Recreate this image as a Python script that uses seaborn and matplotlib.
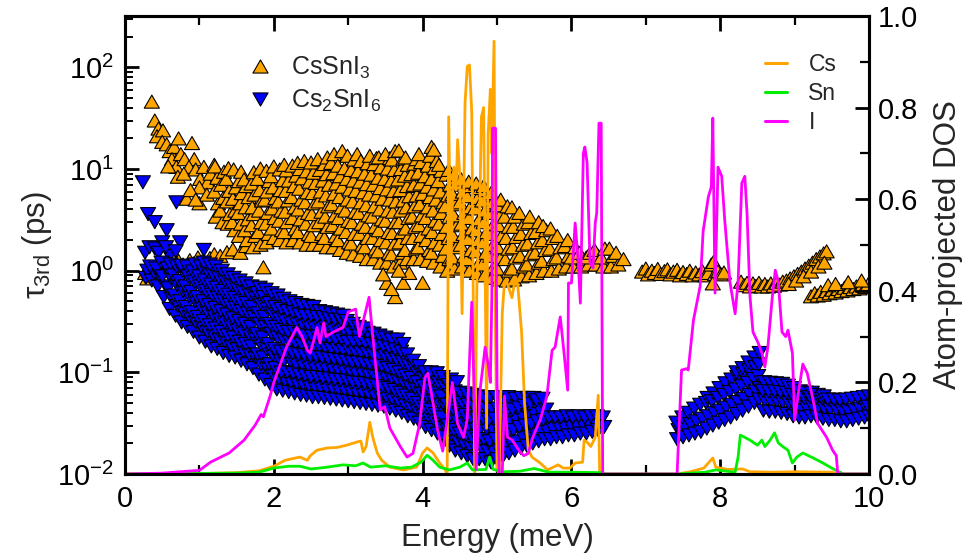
import numpy as np
import pandas as pd
import matplotlib
matplotlib.use("Agg")
import matplotlib.pyplot as plt
from matplotlib.path import Path
from matplotlib.lines import Line2D
from matplotlib.ticker import MultipleLocator, LogLocator, NullFormatter
import seaborn as sns

# ---------------------------------------------------------------------------
# Third-order phonon lifetimes (energy in meV, tau in ps)
# ---------------------------------------------------------------------------
# CsSnI3: decaying low-energy branch
cssni3_upper = [(0.36, 46), (0.40, 30), (0.45, 25), (0.43, 21), (0.51, 24), (0.50, 18.5),
                (0.56, 17.5), (0.60, 15), (0.66, 16.5), (0.63, 12.5), (0.72, 20), (0.75, 14),
                (0.69, 10.5), (0.80, 12.5), (0.90, 18), (0.93, 12.5), (0.86, 10.5), (0.58, 10.6),
                (0.71, 8.4), (0.79, 9.0), (0.95, 9.9), (1.01, 8.0), (1.06, 10.5), (1.11, 7.4),
                (1.00, 6.6), (0.83, 5.1), (1.00, 4.6), (0.88, 6.2), (1.15, 9.0), (1.20, 11.0),
                (1.10, 5.6), (0.95, 5.0)]
# CsSnI3: acoustic branch near 1 ps
cssni3_lower = [(0.27, 0.95), (0.30, 0.84), (0.34, 1.08), (0.40, 0.90), (0.45, 1.00), (0.50, 1.13),
                (0.56, 1.20), (0.61, 1.05), (0.66, 1.12), (0.72, 1.25), (0.78, 1.15), (0.87, 1.27),
                (0.92, 1.18), (0.98, 1.35), (1.05, 1.28), (1.14, 1.33), (1.20, 1.45), (1.28, 1.40),
                (1.37, 1.52), (1.45, 1.62), (1.55, 1.50), (1.63, 1.75), (1.86, 1.08)]
# CsSnI3: dense cloud 1.2-4.3 meV
cssni3_cloud = [
    (1.22, 3.4), (1.25, 4.6), (1.20, 6.0), (1.24, 8.2), (1.21, 10.6),
    (1.31, 3.0), (1.28, 3.9), (1.32, 5.2), (1.29, 7.0), (1.33, 9.4),
    (1.38, 2.9), (1.41, 3.6), (1.37, 4.8), (1.40, 6.1), (1.36, 8.0), (1.39, 10.2),
    (1.47, 2.5), (1.44, 3.0), (1.48, 3.9), (1.45, 5.1), (1.49, 6.6), (1.46, 9.9),
    (1.53, 2.2), (1.56, 2.9), (1.52, 3.7), (1.55, 4.6), (1.57, 5.8), (1.53, 7.6), (1.56, 9.4),
    (1.64, 2.0), (1.61, 2.5), (1.65, 3.2), (1.62, 4.2), (1.66, 5.3), (1.63, 6.8), (1.60, 7.9),
    (1.72, 1.7), (1.75, 2.2), (1.70, 2.8), (1.73, 3.6), (1.71, 4.2), (1.74, 5.6), (1.70, 7.2), (1.73, 9.3),
    (1.82, 1.8), (1.79, 2.4), (1.83, 3.0), (1.80, 3.9), (1.84, 4.9), (1.81, 6.2), (1.78, 8.0), (1.82, 10.1),
    (1.90, 1.9), (1.93, 2.3), (1.89, 2.9), (1.92, 3.7), (1.88, 5.0), (1.91, 6.0), (1.94, 7.6), (1.90, 9.6),
    (2.00, 2.1), (1.97, 2.6), (2.01, 3.3), (1.98, 4.1), (2.02, 5.2), (1.99, 6.6), (1.96, 8.5), (2.00, 10.6),
    (2.08, 2.0), (2.11, 2.5), (2.07, 3.1), (2.10, 3.9), (2.06, 4.8), (2.09, 6.2), (2.12, 7.8), (2.08, 9.9),
    (2.17, 1.9), (2.14, 2.4), (2.18, 3.0), (2.15, 3.8), (2.19, 4.9), (2.16, 6.1), (2.20, 7.7), (2.17, 9.7), (2.14, 11.0),
    (2.26, 2.0), (2.29, 2.6), (2.25, 3.3), (2.28, 4.2), (2.24, 5.3), (2.27, 6.8), (2.30, 8.6), (2.25, 10.8),
    (2.35, 1.9), (2.32, 2.4), (2.36, 3.2), (2.33, 4.0), (2.37, 5.0), (2.34, 6.4), (2.38, 8.1), (2.35, 10.0), (2.32, 11.5),
    (2.44, 1.8), (2.47, 2.3), (2.43, 2.9), (2.46, 3.7), (2.42, 4.7), (2.45, 5.9), (2.48, 7.5), (2.44, 9.5), (2.41, 12.0),
    (2.53, 1.8), (2.50, 2.2), (2.54, 2.8), (2.51, 3.6), (2.55, 4.6), (2.52, 5.8), (2.56, 7.3), (2.53, 9.2), (2.50, 11.6),
    (2.62, 1.8), (2.65, 2.3), (2.61, 3.0), (2.64, 3.8), (2.60, 4.8), (2.63, 6.0), (2.66, 7.7), (2.62, 9.8), (2.59, 12.5),
    (2.71, 1.7), (2.68, 2.1), (2.72, 2.7), (2.69, 3.4), (2.73, 4.3), (2.70, 5.5), (2.74, 7.0), (2.71, 8.9), (2.68, 11.2), (2.72, 13.0),
    (2.80, 1.7), (2.83, 2.2), (2.79, 2.8), (2.82, 3.5), (2.78, 4.5), (2.81, 5.7), (2.84, 7.2), (2.80, 9.1), (2.77, 11.5), (2.81, 14.0),
    (2.89, 1.6), (2.86, 2.0), (2.90, 2.6), (2.87, 3.3), (2.91, 4.2), (2.88, 5.3), (2.92, 6.7), (2.89, 8.5), (2.86, 10.8), (2.92, 15.0),
    (2.98, 1.5), (3.01, 1.9), (2.97, 2.4), (3.00, 3.1), (2.96, 3.9), (2.99, 5.0), (3.02, 6.3), (2.98, 8.0), (2.95, 10.2), (2.99, 13.5),
    (3.07, 1.45), (3.04, 1.85), (3.08, 2.3), (3.05, 3.0), (3.09, 3.8), (3.06, 4.8), (3.10, 6.1), (3.07, 7.7), (3.04, 9.8), (3.08, 12.4), (3.12, 14.0),
    (3.16, 1.4), (3.19, 1.8), (3.15, 2.3), (3.18, 2.9), (3.14, 3.7), (3.17, 4.7), (3.20, 5.9), (3.16, 7.5), (3.13, 9.5), (3.17, 12.0),
    (3.25, 1.3), (3.22, 1.7), (3.26, 2.1), (3.23, 2.7), (3.27, 3.5), (3.24, 4.4), (3.28, 5.6), (3.25, 7.1), (3.22, 9.0), (3.26, 11.4), (3.29, 13.5),
    (3.34, 1.3), (3.37, 1.65), (3.33, 2.1), (3.36, 2.7), (3.32, 3.4), (3.35, 4.3), (3.38, 5.5), (3.34, 7.0), (3.31, 8.8), (3.35, 11.2), (3.38, 12.8),
    (3.43, 1.2), (3.40, 1.55), (3.44, 2.0), (3.41, 2.5), (3.45, 3.2), (3.42, 4.0), (3.46, 5.1), (3.43, 6.5), (3.40, 8.2), (3.44, 10.4), (3.41, 13.0),
    (3.52, 1.2), (3.55, 1.5), (3.51, 1.9), (3.54, 2.4), (3.50, 3.1), (3.53, 3.9), (3.56, 5.0), (3.52, 6.3), (3.49, 8.0), (3.53, 10.1), (3.56, 12.8), (3.50, 14.0),
    (3.61, 1.1), (3.58, 1.45), (3.62, 1.85), (3.59, 2.35), (3.63, 3.0), (3.60, 3.8), (3.64, 4.8), (3.61, 6.1), (3.58, 7.7), (3.62, 9.8), (3.59, 12.4), (3.63, 15.0),
    (3.70, 1.2), (3.73, 1.5), (3.69, 1.9), (3.72, 2.4), (3.68, 3.0), (3.71, 3.9), (3.74, 4.9), (3.70, 6.2), (3.67, 7.9), (3.71, 10.0), (3.74, 12.7), (3.68, 15.2),
    (3.79, 1.3), (3.76, 1.6), (3.80, 2.1), (3.77, 2.6), (3.81, 3.3), (3.78, 4.2), (3.82, 5.4), (3.79, 6.8), (3.76, 8.6), (3.80, 11.0), (3.77, 13.0),
    (3.88, 1.3), (3.91, 1.65), (3.87, 2.1), (3.90, 2.7), (3.86, 3.4), (3.89, 4.3), (3.92, 5.5), (3.88, 7.0), (3.85, 8.9), (3.89, 11.3), (3.92, 12.5),
    (3.97, 1.3), (3.94, 1.7), (3.98, 2.2), (3.95, 2.8), (3.99, 3.5), (3.96, 4.5), (4.00, 5.7), (3.97, 7.2), (3.94, 9.2), (3.98, 11.7), (3.95, 14.0),
    (4.06, 1.25), (4.09, 1.6), (4.05, 2.0), (4.08, 2.6), (4.04, 3.3), (4.07, 4.2), (4.10, 5.3), (4.06, 6.7), (4.03, 8.5), (4.07, 10.8), (4.10, 13.5), (4.12, 16.5),
    (4.15, 1.2), (4.12, 1.5), (4.16, 1.9), (4.13, 2.4), (4.17, 3.1), (4.14, 3.9), (4.18, 5.0), (4.15, 6.3), (4.12, 8.0), (4.16, 10.2), (4.19, 12.0), (4.15, 15.5),
    (4.24, 1.1), (4.27, 1.4), (4.23, 1.8), (4.26, 2.3), (4.22, 2.9), (4.25, 3.7), (4.28, 4.7), (4.24, 6.0), (4.21, 7.6), (4.25, 9.6), (4.22, 11.0),
    (3.52, 0.76), (3.63, 0.55), (3.74, 0.76), (4.00, 0.76), (3.47, 0.92), (3.82, 0.95), (3.58, 0.66), (3.68, 1.0)]
# CsSnI3: narrowing band 4.3-6.7 meV
cssni3_funnel = [
    (4.33, 1.0), (4.36, 1.3), (4.31, 1.65), (4.35, 2.1), (4.32, 2.7), (4.36, 3.4), (4.30, 4.3), (4.34, 5.5), (4.37, 7.0), (4.32, 8.8), (4.35, 9.8),
    (4.43, 1.05), (4.40, 1.35), (4.45, 1.7), (4.41, 2.2), (4.46, 2.8), (4.42, 3.5), (4.44, 4.5), (4.40, 5.7), (4.45, 7.2), (4.42, 8.8),
    (4.53, 1.1), (4.56, 1.4), (4.51, 1.8), (4.55, 2.3), (4.52, 2.9), (4.56, 3.7), (4.50, 4.7), (4.54, 6.0), (4.52, 7.9),
    (4.63, 1.0), (4.60, 1.3), (4.65, 1.6), (4.61, 2.05), (4.66, 2.6), (4.62, 3.3), (4.64, 4.2), (4.60, 5.4), (4.65, 6.8), (4.62, 7.5),
    (4.73, 0.95), (4.76, 1.2), (4.71, 1.55), (4.75, 2.0), (4.72, 2.5), (4.76, 3.2), (4.70, 4.1), (4.74, 5.2), (4.77, 6.5), (4.72, 7.2),
    (4.83, 0.9), (4.80, 1.15), (4.85, 1.5), (4.81, 1.9), (4.86, 2.4), (4.82, 3.0), (4.84, 3.9), (4.80, 4.9), (4.85, 6.2), (4.82, 6.8),
    (4.93, 0.85), (4.96, 1.1), (4.91, 1.4), (4.95, 1.8), (4.92, 2.3), (4.96, 2.9), (4.90, 3.7), (4.94, 4.7), (4.92, 5.8),
    (5.03, 0.82), (5.00, 1.05), (5.05, 1.35), (5.01, 1.7), (5.06, 2.2), (5.02, 2.8), (5.04, 3.5), (5.00, 4.4), (5.05, 5.0),
    (5.13, 0.8), (5.16, 1.0), (5.11, 1.3), (5.15, 1.65), (5.12, 2.1), (5.16, 2.7), (5.10, 3.4), (5.14, 4.3),
    (5.23, 0.82), (5.20, 1.05), (5.25, 1.35), (5.21, 1.7), (5.26, 2.15), (5.22, 2.7), (5.24, 3.4), (5.20, 4.2),
    (5.33, 0.88), (5.36, 1.1), (5.31, 1.4), (5.35, 1.8), (5.32, 2.3), (5.36, 2.9), (5.30, 3.7),
    (5.43, 0.9), (5.40, 1.15), (5.45, 1.45), (5.41, 1.85), (5.46, 2.35), (5.42, 3.0), (5.44, 3.4),
    (5.53, 0.95), (5.56, 1.2), (5.51, 1.5), (5.55, 1.9), (5.52, 2.4), (5.56, 3.0),
    (5.63, 1.0), (5.60, 1.25), (5.65, 1.6), (5.61, 2.0), (5.66, 2.5), (5.62, 2.75),
    (5.73, 1.0), (5.76, 1.3), (5.71, 1.65), (5.75, 2.1), (5.72, 2.6),
    (5.83, 1.05), (5.80, 1.35), (5.85, 1.7), (5.81, 2.2),
    (5.93, 1.1), (5.96, 1.4), (5.91, 1.75), (5.95, 2.0),
    (6.03, 1.1), (6.00, 1.35), (6.05, 1.7),
    (6.13, 1.1), (6.16, 1.3), (6.11, 1.5),
    (6.23, 1.15), (6.20, 1.35), (6.25, 1.5),
    (6.33, 1.15), (6.36, 1.4), (6.31, 1.6),
    (6.43, 1.1), (6.40, 1.35), (6.45, 1.65),
    (6.53, 1.1), (6.56, 1.4), (6.51, 1.65),
    (6.63, 1.15), (6.60, 1.5), (6.70, 1.3)]
# CsSnI3: high-energy optical modes
cssni3_high = [
    (6.95, 0.98), (7.00, 1.05), (7.03, 0.92), (7.08, 1.0), (7.12, 0.95), (7.16, 1.04), (7.20, 0.93),
    (7.25, 0.99), (7.29, 1.03), (7.33, 0.92), (7.37, 0.98), (7.42, 1.02), (7.46, 0.9), (7.50, 0.97),
    (7.55, 0.93), (7.59, 1.0), (7.63, 0.9), (7.67, 0.96), (7.72, 0.92), (7.76, 0.99), (7.80, 0.9),
    (7.84, 0.95), (7.88, 1.15), (7.91, 1.22), (7.93, 0.93), (7.97, 0.98), (8.01, 0.92), (8.05, 0.96),
    (7.90, 0.75),
    (8.28, 0.78), (8.32, 0.72), (8.36, 0.76), (8.40, 0.70), (8.44, 0.75), (8.48, 0.71), (8.52, 0.76),
    (8.56, 0.70), (8.60, 0.74), (8.64, 0.70), (8.68, 0.75), (8.72, 0.71), (8.76, 0.76), (8.80, 0.73),
    (8.84, 0.78), (8.89, 0.80), (8.94, 0.84), (8.99, 0.88), (9.04, 0.93), (9.09, 0.98), (9.14, 1.05),
    (9.19, 1.12), (9.24, 1.20), (9.29, 1.30), (9.34, 1.38), (9.39, 1.48), (9.43, 1.55),
    (8.92, 0.74), (9.02, 0.80), (9.12, 0.88), (9.22, 0.98), (9.32, 1.10), (9.40, 1.20),
    (9.22, 0.56), (9.27, 0.60), (9.31, 0.57), (9.35, 0.62), (9.39, 0.58), (9.43, 0.63), (9.47, 0.60),
    (9.51, 0.65), (9.55, 0.61), (9.59, 0.66), (9.63, 0.63), (9.67, 0.68), (9.71, 0.64), (9.75, 0.69),
    (9.79, 0.66), (9.83, 0.70), (9.87, 0.67), (9.91, 0.72), (9.95, 0.69), (9.99, 0.74),
    (9.45, 0.72), (9.55, 0.74), (9.72, 0.77), (9.90, 0.80)]

# Cs2SnI6: scattered low-energy modes
cs2sni6_low = [(0.24, 7.4), (0.31, 3.6), (0.40, 3.0), (0.56, 2.5), (0.69, 4.7), (0.27, 1.5),
               (0.33, 1.7), (0.40, 1.65), (0.50, 1.9), (0.60, 1.4), (0.74, 1.9), (0.45, 1.5),
               (0.55, 1.7), (1.06, 1.6), (0.68, 1.55)]
# Cs2SnI6: main decaying band 0.3-6.5 meV
cs2sni6_band = [
    (0.28, 0.85), (0.30, 1.0),
    (0.36, 0.8), (0.39, 0.95), (0.34, 1.1),
    (0.44, 0.7), (0.47, 0.87), (0.42, 1.05),
    (0.52, 0.55), (0.55, 0.7), (0.50, 0.88), (0.54, 1.1), (0.49, 1.2),
    (0.60, 0.42), (0.63, 0.53), (0.58, 0.67), (0.62, 0.84), (0.57, 1.05), (0.61, 1.15),
    (0.68, 0.36), (0.71, 0.45), (0.66, 0.57), (0.70, 0.72), (0.65, 0.9), (0.69, 1.1),
    (0.76, 0.31), (0.79, 0.39), (0.74, 0.5), (0.78, 0.63), (0.73, 0.79), (0.77, 1.0), (0.75, 1.12),
    (0.84, 0.28), (0.87, 0.35), (0.82, 0.44), (0.86, 0.56), (0.81, 0.7), (0.85, 0.88), (0.83, 1.1),
    (0.92, 0.25), (0.95, 0.31), (0.90, 0.39), (0.94, 0.5), (0.89, 0.62), (0.93, 0.78), (0.91, 0.98), (0.94, 1.15),
    (1.00, 0.22), (1.03, 0.28), (0.98, 0.35), (1.02, 0.44), (0.97, 0.55), (1.01, 0.7), (0.99, 0.88), (1.02, 1.1),
    (1.08, 0.2), (1.11, 0.25), (1.06, 0.32), (1.10, 0.4), (1.05, 0.5), (1.09, 0.63), (1.07, 0.8), (1.10, 1.0), (1.06, 1.2),
    (1.16, 0.18), (1.19, 0.23), (1.14, 0.29), (1.18, 0.37), (1.13, 0.46), (1.17, 0.58), (1.15, 0.73), (1.18, 0.92), (1.14, 1.15),
    (1.24, 0.17), (1.27, 0.21), (1.22, 0.27), (1.26, 0.34), (1.21, 0.43), (1.25, 0.54), (1.23, 0.68), (1.26, 0.86), (1.22, 1.1),
    (1.32, 0.155), (1.35, 0.2), (1.30, 0.25), (1.34, 0.31), (1.29, 0.4), (1.33, 0.5), (1.31, 0.63), (1.34, 0.8), (1.30, 1.0),
    (1.40, 0.145), (1.43, 0.18), (1.38, 0.23), (1.42, 0.29), (1.37, 0.37), (1.41, 0.46), (1.39, 0.58), (1.42, 0.73), (1.38, 0.92),
    (1.48, 0.14), (1.51, 0.17), (1.46, 0.22), (1.50, 0.27), (1.45, 0.34), (1.49, 0.43), (1.47, 0.54), (1.50, 0.68), (1.46, 0.85),
    (1.56, 0.13), (1.59, 0.16), (1.54, 0.2), (1.58, 0.25), (1.53, 0.32), (1.57, 0.4), (1.55, 0.5), (1.58, 0.63), (1.54, 0.8),
    (1.64, 0.12), (1.67, 0.15), (1.62, 0.19), (1.66, 0.24), (1.61, 0.3), (1.65, 0.38), (1.63, 0.48), (1.66, 0.6), (1.62, 0.75),
    (1.72, 0.11), (1.75, 0.14), (1.70, 0.18), (1.74, 0.22), (1.69, 0.28), (1.73, 0.35), (1.71, 0.44), (1.74, 0.56), (1.70, 0.7),
    (1.80, 0.095), (1.83, 0.12), (1.78, 0.15), (1.82, 0.19), (1.77, 0.24), (1.81, 0.3), (1.79, 0.38), (1.82, 0.48), (1.78, 0.6), (1.81, 0.68),
    (1.88, 0.085), (1.91, 0.11), (1.86, 0.14), (1.90, 0.17), (1.85, 0.22), (1.89, 0.28), (1.87, 0.35), (1.90, 0.44), (1.86, 0.55), (1.89, 0.65),
    (1.96, 0.075), (1.99, 0.095), (1.94, 0.12), (1.98, 0.15), (1.93, 0.19), (1.97, 0.24), (1.95, 0.3), (1.98, 0.38), (1.94, 0.48), (1.97, 0.6),
    (2.04, 0.068), (2.07, 0.086), (2.02, 0.11), (2.06, 0.14), (2.01, 0.17), (2.05, 0.22), (2.03, 0.28), (2.06, 0.35), (2.02, 0.44), (2.05, 0.57),
    (2.12, 0.066), (2.15, 0.083), (2.10, 0.1), (2.14, 0.13), (2.09, 0.16), (2.13, 0.21), (2.11, 0.26), (2.14, 0.33), (2.10, 0.42), (2.13, 0.53),
    (2.20, 0.064), (2.23, 0.08), (2.18, 0.1), (2.22, 0.13), (2.17, 0.16), (2.21, 0.2), (2.19, 0.25), (2.22, 0.32), (2.18, 0.4), (2.21, 0.5),
    (2.28, 0.062), (2.31, 0.078), (2.26, 0.098), (2.30, 0.12), (2.25, 0.155), (2.29, 0.195), (2.27, 0.25), (2.30, 0.31), (2.26, 0.39), (2.29, 0.48),
    (2.36, 0.06), (2.39, 0.076), (2.34, 0.095), (2.38, 0.12), (2.33, 0.15), (2.37, 0.19), (2.35, 0.24), (2.38, 0.3), (2.34, 0.37), (2.37, 0.46),
    (2.44, 0.059), (2.47, 0.074), (2.42, 0.093), (2.46, 0.117), (2.41, 0.147), (2.45, 0.185), (2.43, 0.23), (2.46, 0.29), (2.42, 0.36), (2.45, 0.45),
    (2.52, 0.057), (2.55, 0.072), (2.50, 0.09), (2.54, 0.114), (2.49, 0.143), (2.53, 0.18), (2.51, 0.226), (2.54, 0.285), (2.50, 0.36), (2.53, 0.44),
    (2.60, 0.057), (2.63, 0.071), (2.58, 0.09), (2.62, 0.113), (2.57, 0.142), (2.61, 0.18), (2.59, 0.225), (2.62, 0.28), (2.58, 0.35), (2.61, 0.4),
    (2.68, 0.056), (2.71, 0.07), (2.66, 0.088), (2.70, 0.11), (2.65, 0.14), (2.69, 0.175), (2.67, 0.22), (2.70, 0.28), (2.66, 0.35), (2.69, 0.39),
    (2.76, 0.055), (2.79, 0.069), (2.74, 0.087), (2.78, 0.11), (2.73, 0.137), (2.77, 0.17), (2.75, 0.215), (2.78, 0.27), (2.74, 0.34), (2.77, 0.38),
    (2.84, 0.054), (2.87, 0.068), (2.82, 0.085), (2.86, 0.107), (2.81, 0.135), (2.85, 0.17), (2.83, 0.21), (2.86, 0.265), (2.82, 0.33), (2.85, 0.37),
    (2.92, 0.053), (2.95, 0.067), (2.90, 0.084), (2.94, 0.105), (2.89, 0.132), (2.93, 0.166), (2.91, 0.21), (2.94, 0.26), (2.90, 0.33), (2.93, 0.36),
    (3.00, 0.052), (3.03, 0.066), (2.98, 0.083), (3.02, 0.104), (2.97, 0.13), (3.01, 0.165), (2.99, 0.2), (3.02, 0.25), (2.98, 0.32),
    (3.08, 0.051), (3.11, 0.064), (3.06, 0.08), (3.10, 0.1), (3.05, 0.126), (3.09, 0.16), (3.07, 0.2), (3.10, 0.25), (3.06, 0.3),
    (3.16, 0.05), (3.19, 0.063), (3.14, 0.079), (3.18, 0.1), (3.13, 0.125), (3.17, 0.157), (3.15, 0.2), (3.18, 0.25), (3.14, 0.28),
    (3.24, 0.049), (3.27, 0.062), (3.22, 0.078), (3.26, 0.098), (3.21, 0.123), (3.25, 0.155), (3.23, 0.195), (3.26, 0.245), (3.22, 0.27),
    (3.32, 0.048), (3.35, 0.06), (3.30, 0.076), (3.34, 0.095), (3.29, 0.12), (3.33, 0.15), (3.31, 0.19), (3.34, 0.24),
    (3.40, 0.047), (3.43, 0.059), (3.38, 0.074), (3.42, 0.093), (3.37, 0.117), (3.41, 0.147), (3.39, 0.185), (3.42, 0.23),
    (3.48, 0.046), (3.51, 0.058), (3.46, 0.073), (3.50, 0.092), (3.45, 0.115), (3.49, 0.145), (3.47, 0.18), (3.50, 0.22),
    (3.56, 0.044), (3.59, 0.055), (3.54, 0.07), (3.58, 0.088), (3.53, 0.11), (3.57, 0.14), (3.55, 0.175), (3.58, 0.21),
    (3.64, 0.042), (3.67, 0.053), (3.62, 0.067), (3.66, 0.084), (3.61, 0.106), (3.65, 0.133), (3.63, 0.168), (3.66, 0.21),
    (3.72, 0.04), (3.75, 0.05), (3.70, 0.063), (3.74, 0.08), (3.69, 0.1), (3.73, 0.126), (3.71, 0.16), (3.74, 0.19),
    (3.80, 0.037), (3.83, 0.047), (3.78, 0.059), (3.82, 0.074), (3.77, 0.093), (3.81, 0.117), (3.79, 0.15),
    (3.88, 0.035), (3.91, 0.044), (3.86, 0.055), (3.90, 0.07), (3.85, 0.088), (3.89, 0.11), (3.87, 0.13),
    (3.96, 0.032), (3.99, 0.04), (3.94, 0.05), (3.98, 0.063), (3.93, 0.08), (3.97, 0.1), (3.95, 0.115),
    (4.04, 0.029), (4.07, 0.037), (4.02, 0.046), (4.06, 0.058), (4.01, 0.073), (4.05, 0.092), (4.03, 0.1),
    (4.12, 0.027), (4.15, 0.034), (4.10, 0.043), (4.14, 0.054), (4.09, 0.068), (4.13, 0.086), (4.11, 0.1),
    (4.20, 0.025), (4.23, 0.031), (4.18, 0.039), (4.22, 0.05), (4.17, 0.062), (4.21, 0.079), (4.19, 0.098),
    (4.28, 0.023), (4.31, 0.029), (4.26, 0.036), (4.30, 0.046), (4.25, 0.058), (4.29, 0.073), (4.27, 0.09),
    (4.36, 0.019), (4.39, 0.024), (4.34, 0.03), (4.38, 0.038), (4.33, 0.048), (4.37, 0.06), (4.35, 0.075), (4.38, 0.085),
    (4.44, 0.017), (4.47, 0.021), (4.42, 0.027), (4.46, 0.034), (4.41, 0.043), (4.45, 0.054), (4.43, 0.065), (4.46, 0.08),
    (4.52, 0.016), (4.55, 0.02), (4.50, 0.025), (4.54, 0.032), (4.49, 0.04), (4.53, 0.05), (4.51, 0.063),
    (4.60, 0.015), (4.63, 0.019), (4.58, 0.024), (4.62, 0.03), (4.57, 0.038), (4.61, 0.048), (4.59, 0.062),
    (4.68, 0.014), (4.71, 0.018), (4.66, 0.023), (4.70, 0.029), (4.65, 0.036), (4.69, 0.046), (4.67, 0.06),
    (4.76, 0.014), (4.79, 0.018), (4.74, 0.022), (4.78, 0.028), (4.73, 0.035), (4.77, 0.045), (4.75, 0.058),
    (4.84, 0.014), (4.87, 0.017), (4.82, 0.022), (4.86, 0.028), (4.81, 0.035), (4.85, 0.044), (4.83, 0.057),
    (4.92, 0.013), (4.95, 0.017), (4.90, 0.021), (4.94, 0.027), (4.89, 0.034), (4.93, 0.043), (4.91, 0.057),
    (5.00, 0.014), (5.03, 0.017), (4.98, 0.022), (5.02, 0.028), (4.97, 0.035), (5.01, 0.044), (4.99, 0.057),
    (5.08, 0.015), (5.11, 0.019), (5.06, 0.024), (5.10, 0.03), (5.05, 0.038), (5.09, 0.048), (5.07, 0.057),
    (5.16, 0.016), (5.19, 0.02), (5.14, 0.025), (5.18, 0.032), (5.13, 0.04), (5.17, 0.05), (5.15, 0.057),
    (5.24, 0.017), (5.27, 0.021), (5.22, 0.027), (5.26, 0.034), (5.21, 0.043), (5.25, 0.055),
    (5.32, 0.018), (5.35, 0.023), (5.30, 0.029), (5.34, 0.036), (5.29, 0.045), (5.33, 0.056),
    (5.40, 0.019), (5.43, 0.024), (5.38, 0.03), (5.42, 0.038), (5.37, 0.047), (5.41, 0.056),
    (5.48, 0.02), (5.51, 0.025), (5.46, 0.031), (5.50, 0.039), (5.45, 0.049), (5.49, 0.056),
    (5.56, 0.021), (5.59, 0.026), (5.54, 0.033), (5.58, 0.042), (5.53, 0.053),
    (5.64, 0.022), (5.67, 0.027), (5.62, 0.034), (5.66, 0.043), (5.61, 0.055),
    (5.72, 0.022), (5.75, 0.028), (5.70, 0.036),
    (5.80, 0.023), (5.83, 0.029), (5.78, 0.036),
    (5.88, 0.023), (5.91, 0.029), (5.86, 0.036),
    (5.96, 0.024), (5.99, 0.03), (5.94, 0.037),
    (6.04, 0.024), (6.07, 0.03), (6.02, 0.036),
    (6.12, 0.025), (6.15, 0.031), (6.10, 0.037),
    (6.20, 0.025), (6.23, 0.031), (6.18, 0.036),
    (6.28, 0.026), (6.31, 0.032), (6.26, 0.037),
    (6.36, 0.027), (6.39, 0.033), (6.34, 0.037),
    (6.44, 0.029), (6.42, 0.036)]
# Cs2SnI6: optical modes above 7.4 meV
cs2sni6_high = [
    (7.42, 0.022), (7.44, 0.027), (7.41, 0.032),
    (7.50, 0.023), (7.52, 0.029), (7.49, 0.036),
    (7.58, 0.024), (7.60, 0.031), (7.57, 0.04),
    (7.66, 0.025), (7.68, 0.033), (7.65, 0.044),
    (7.74, 0.026), (7.76, 0.035), (7.73, 0.048),
    (7.82, 0.028), (7.84, 0.037), (7.81, 0.05), (7.83, 0.056),
    (7.90, 0.03), (7.92, 0.04), (7.89, 0.052), (7.91, 0.062),
    (7.98, 0.032), (8.00, 0.042), (7.97, 0.056), (7.99, 0.07),
    (8.06, 0.034), (8.08, 0.045), (8.05, 0.06), (8.07, 0.078),
    (8.14, 0.036), (8.16, 0.048), (8.13, 0.064), (8.15, 0.085),
    (8.22, 0.039), (8.24, 0.051), (8.21, 0.068), (8.23, 0.09), (8.22, 0.1),
    (8.30, 0.042), (8.32, 0.055), (8.29, 0.073), (8.31, 0.096), (8.30, 0.11),
    (8.38, 0.046), (8.40, 0.06), (8.37, 0.079), (8.39, 0.105), (8.38, 0.125),
    (8.46, 0.05), (8.48, 0.065), (8.45, 0.086), (8.47, 0.113), (8.46, 0.14),
    (8.52, 0.054), (8.53, 0.07), (8.51, 0.092), (8.52, 0.12), (8.53, 0.155),
    (8.58, 0.042), (8.60, 0.053), (8.57, 0.066), (8.59, 0.08),
    (8.66, 0.041), (8.68, 0.052), (8.65, 0.065), (8.67, 0.079),
    (8.74, 0.041), (8.76, 0.052), (8.73, 0.065), (8.75, 0.078),
    (8.82, 0.04), (8.84, 0.051), (8.81, 0.064), (8.83, 0.077),
    (8.90, 0.039), (8.92, 0.05), (8.89, 0.063), (8.91, 0.074),
    (8.98, 0.037), (9.00, 0.047), (8.97, 0.06), (8.99, 0.07),
    (9.06, 0.036), (9.08, 0.045), (9.05, 0.056), (9.07, 0.065),
    (9.14, 0.036), (9.16, 0.045), (9.13, 0.056), (9.15, 0.063),
    (9.22, 0.037), (9.24, 0.046), (9.21, 0.057), (9.23, 0.063),
    (9.30, 0.036), (9.32, 0.045), (9.29, 0.056), (9.31, 0.06),
    (9.38, 0.035), (9.40, 0.044), (9.37, 0.055), (9.39, 0.058),
    (9.46, 0.034), (9.48, 0.043), (9.45, 0.054),
    (9.54, 0.034), (9.56, 0.043), (9.53, 0.054),
    (9.62, 0.033), (9.64, 0.042), (9.61, 0.053),
    (9.70, 0.033), (9.72, 0.042), (9.69, 0.054),
    (9.78, 0.034), (9.80, 0.043), (9.77, 0.055),
    (9.86, 0.035), (9.88, 0.044), (9.85, 0.056),
    (9.94, 0.036), (9.96, 0.045), (9.93, 0.057),
    (10.0, 0.037), (9.99, 0.046), (10.0, 0.058)]

# ---------------------------------------------------------------------------
# Atom-projected phonon DOS (energy in meV, DOS in arb. units)
# ---------------------------------------------------------------------------
cs_dos = [(0.0, 0.0), (1.0, 0.001), (1.5, 0.003), (1.8, 0.007), (2.0, 0.017), (2.15, 0.03), (2.35, 0.037),
          (2.45, 0.03), (2.49, 0.04), (2.58, 0.052), (2.72, 0.057), (2.85, 0.058), (2.98, 0.063), (3.12, 0.07),
          (3.17, 0.072), (3.2, 0.048), (3.24, 0.06), (3.29, 0.113), (3.33, 0.08), (3.39, 0.046), (3.45, 0.03),
          (3.56, 0.015), (3.74, 0.009), (3.92, 0.015), (4.0, 0.046), (4.06, 0.057), (4.14, 0.046), (4.23, 0.024),
          (4.30, 0.01), (4.33, 0.0), (4.35, 0.78), (4.38, 0.45), (4.40, 0.6), (4.42, 0.67), (4.45, 0.62),
          (4.47, 0.73), (4.50, 0.65), (4.53, 0.35), (4.57, 0.81), (4.60, 0.89), (4.63, 0.893), (4.66, 0.79),
          (4.70, 0.0), (4.73, 0.42), (4.77, 0.6), (4.79, 0.78), (4.82, 0.80), (4.86, 0.1), (4.88, 0.74),
          (4.91, 0.84), (4.93, 0.7), (4.96, 0.945), (4.98, 0.3), (5.00, 0.01), (5.03, 0.0), (5.07, 0.35),
          (5.10, 0.42), (5.13, 0.42), (5.17, 0.40), (5.20, 0.385), (5.25, 0.43), (5.28, 0.41), (5.33, 0.31),
          (5.37, 0.155), (5.42, 0.052), (5.47, 0.037), (5.58, 0.024), (5.68, 0.009), (5.82, 0.02), (5.89, 0.013),
          (5.98, 0.013), (6.05, 0.024), (6.15, 0.026), (6.17, 0.074), (6.22, 0.068), (6.26, 0.06), (6.32, 0.08),
          (6.36, 0.172), (6.38, 0.0), (7.42, 0.0), (7.6, 0.005), (7.78, 0.013), (7.9, 0.035), (7.94, 0.015),
          (8.1, 0.01), (8.3, 0.011), (8.4, 0.005), (8.7, 0.004), (9.0, 0.005), (9.5, 0.004), (9.6, 0.0), (10.0, 0.0)]
sn_dos = [(0.0, 0.0), (1.5, 0.002), (1.8, 0.004), (2.0, 0.013), (2.2, 0.017), (2.35, 0.017), (2.5, 0.011),
          (2.72, 0.015), (2.93, 0.02), (3.1, 0.018), (3.2, 0.024), (3.3, 0.015), (3.5, 0.018), (3.7, 0.013),
          (3.85, 0.015), (3.98, 0.026), (4.06, 0.041), (4.14, 0.03), (4.23, 0.015), (4.36, 0.009), (4.5, 0.015),
          (4.6, 0.024), (4.67, 0.009), (4.85, 0.01), (4.9, 0.037), (4.95, 0.01), (5.08, 0.005), (5.3, 0.006),
          (5.5, 0.012), (5.7, 0.004), (6.0, 0.004), (6.4, 0.003), (6.45, 0.0), (7.42, 0.0), (7.8, 0.004),
          (7.94, 0.009), (8.2, 0.004), (8.24, 0.037), (8.27, 0.085), (8.33, 0.08), (8.4, 0.074), (8.5, 0.063),
          (8.56, 0.074), (8.6, 0.06), (8.67, 0.074), (8.73, 0.09), (8.78, 0.068), (8.84, 0.06), (8.91, 0.052),
          (8.97, 0.024), (9.03, 0.037), (9.11, 0.046), (9.25, 0.035), (9.38, 0.024), (9.52, 0.011),
          (9.61, 0.004), (9.65, 0.0), (10.0, 0.0)]
i_dos = [(0.0, 0.0), (0.5, 0.002), (1.0, 0.008), (1.15, 0.026), (1.4, 0.046), (1.6, 0.074), (1.75, 0.107),
         (1.83, 0.13), (1.86, 0.125), (1.95, 0.17), (2.0, 0.2), (2.1, 0.245), (2.17, 0.277), (2.31, 0.32),
         (2.38, 0.30), (2.45, 0.27), (2.49, 0.264), (2.55, 0.30), (2.58, 0.32), (2.62, 0.286), (2.67, 0.33),
         (2.7, 0.30), (2.8, 0.31), (2.93, 0.32), (3.0, 0.354), (3.1, 0.36), (3.15, 0.30), (3.28, 0.386),
         (3.33, 0.30), (3.43, 0.14), (3.49, 0.147), (3.56, 0.10), (3.7, 0.06), (3.79, 0.037), (3.87, 0.045),
         (3.96, 0.11), (4.03, 0.21), (4.07, 0.22), (4.14, 0.155), (4.2, 0.096), (4.27, 0.05), (4.33, 0.12),
         (4.4, 0.2), (4.47, 0.11), (4.55, 0.08), (4.6, 0.12), (4.66, 0.375), (4.72, 0.01), (4.77, 0.18),
         (4.84, 0.277), (4.88, 0.24), (4.91, 0.2), (4.93, 0.387), (4.94, 0.755), (4.98, 0.755), (5.0, 0.2),
         (5.03, 0.0), (5.07, 0.0), (5.1, 0.17), (5.14, 0.08), (5.2, 0.075), (5.3, 0.05), (5.36, 0.04),
         (5.42, 0.045), (5.48, 0.08), (5.58, 0.118), (5.67, 0.17), (5.74, 0.27), (5.78, 0.277), (5.85, 0.343),
         (5.9, 0.265), (5.95, 0.183), (5.96, 0.417), (6.0, 0.417), (6.05, 0.548), (6.09, 0.467), (6.12, 0.373),
         (6.16, 0.70), (6.18, 0.714), (6.21, 0.68), (6.25, 0.46), (6.29, 0.45), (6.32, 0.548), (6.34, 0.57),
         (6.37, 0.766), (6.40, 0.766), (6.42, 0.0), (7.42, 0.0), (7.48, 0.227), (7.55, 0.23), (7.57, 0.227),
         (7.64, 0.336), (7.73, 0.41), (7.77, 0.53), (7.84, 0.605), (7.88, 0.627), (7.90, 0.777), (7.93, 0.395),
         (7.97, 0.67), (8.02, 0.65), (8.06, 0.555), (8.13, 0.42), (8.2, 0.35), (8.24, 0.42), (8.29, 0.635),
         (8.33, 0.65), (8.36, 0.57), (8.4, 0.387), (8.44, 0.31), (8.51, 0.286), (8.56, 0.264), (8.6, 0.234),
         (8.64, 0.277), (8.7, 0.387), (8.74, 0.445), (8.78, 0.42), (8.83, 0.31), (8.88, 0.30), (8.91, 0.314),
         (8.97, 0.264), (9.0, 0.118), (9.05, 0.177), (9.11, 0.24), (9.17, 0.22), (9.25, 0.16), (9.31, 0.11),
         (9.43, 0.08), (9.51, 0.052), (9.56, 0.04), (9.58, 0.0), (10.0, 0.0)]

compounds = ["CsSnI3", "Cs2SnI6"]
compound_labels = ["CsSnI$_3$", "Cs$_2$SnI$_6$"]
compound_colors = {"CsSnI3": "#FFA500", "Cs2SnI6": "#0000FF"}
dos_labels = ["Cs", "Sn", "I"]
dos_colors = ["#FFA500", "#00EE00", "#FF00FF"]

# ---------------------------------------------------------------------------
sns.set_theme(style="ticks")
plt.rcParams.update({
    "font.family": ["Liberation Sans", "DejaVu Sans"],
    "mathtext.fontset": "custom",
    "mathtext.rm": "Liberation Sans",
    "mathtext.it": "Liberation Sans:italic",
    "mathtext.bf": "Liberation Sans:bold",
    "mathtext.default": "regular",
    "axes.axisbelow": False,
    "xtick.direction": "in", "ytick.direction": "in",
    "xtick.top": True, "xtick.bottom": True,
    "xtick.color": "black", "ytick.color": "black",
    "xtick.labelsize": 21, "ytick.labelsize": 21,
})

frames = []
for name, groups in (("CsSnI3", [cssni3_upper, cssni3_lower, cssni3_cloud, cssni3_funnel, cssni3_high]),
                     ("Cs2SnI6", [cs2sni6_low, cs2sni6_band, cs2sni6_high])):
    for pts in groups:
        e, t = zip(*pts)
        frames.append(pd.DataFrame({"energy": e, "tau": t, "compound": name}))
lifetimes = pd.concat(frames, ignore_index=True)

# equilateral triangle markers
codes = [Path.MOVETO, Path.LINETO, Path.LINETO, Path.CLOSEPOLY]
tri_up = Path([(-1, -0.866), (1, -0.866), (0, 0.866), (-1, -0.866)], codes)
tri_down = Path([(-1, 0.866), (1, 0.866), (0, -0.866), (-1, 0.866)], codes)
markers = {"CsSnI3": tri_up, "Cs2SnI6": tri_down}

fig = plt.figure(figsize=(9.67, 5.55), dpi=100)
ax = fig.add_axes([0.1293, 0.1459, 0.7694, 0.8253])
ax.set_yscale("log")

sns.scatterplot(data=lifetimes, x="energy", y="tau", hue="compound", style="compound",
                hue_order=compounds, style_order=compounds, markers=markers,
                palette=compound_colors, s=118, edgecolor="black", linewidth=0.8,
                legend=False, ax=ax, zorder=2)

ax.set_xlim(0, 10)
ax.set_ylim(0.01, 320)
ax.set_xlabel("Energy (meV)", fontsize=22.5, labelpad=7)
ax.set_ylabel("\u03c4$_{3rd}$ (ps)", fontsize=22.5, labelpad=2)
ax.xaxis.set_major_locator(MultipleLocator(2))
ax.xaxis.set_minor_locator(MultipleLocator(1))
ax.yaxis.set_major_locator(LogLocator(base=10))
ax.yaxis.set_minor_locator(LogLocator(base=10, subs=np.arange(2, 10)))
ax.yaxis.set_minor_formatter(NullFormatter())

# right axis: projected DOS
ax2 = ax.twinx()
for pts, lab, col in zip([cs_dos, sn_dos, i_dos], dos_labels, dos_colors):
    e, d = zip(*pts)
    sns.lineplot(x=list(e), y=list(d), color=col, linewidth=2.0, estimator=None,
                 sort=False, ax=ax2)
ax2.set_ylim(0, 1)
ax2.yaxis.set_major_locator(MultipleLocator(0.2))
ax2.yaxis.set_minor_locator(MultipleLocator(0.1))
ax2.set_ylabel("Atom-projected DOS", fontsize=22.5, labelpad=11)

ax.tick_params(axis="x", which="both", direction="in", top=True, bottom=True, colors="black")
ax.tick_params(axis="x", which="major", length=11, width=2.0, labelsize=21, pad=8)
ax.tick_params(axis="x", which="minor", length=6.5, width=1.6)
ax.tick_params(axis="y", which="both", direction="in", left=True, right=False, colors="black")
ax.tick_params(axis="y", which="major", length=10, width=2.0, labelsize=21, pad=8)
ax.tick_params(axis="y", which="minor", length=5.5, width=1.4)
ax2.tick_params(axis="y", which="both", direction="in", right=True, left=False, colors="black")
ax2.tick_params(axis="y", which="major", length=10, width=2.0, labelsize=21, pad=6)
ax2.tick_params(axis="y", which="minor", length=6.5, width=1.6)

for a in (ax, ax2):
    for sp in a.spines.values():
        sp.set_linewidth(2.2)
        sp.set_color("black")

# legends
scatter_handles = [Line2D([], [], linestyle="none", marker=markers[c], markersize=10.9,
                          markerfacecolor=compound_colors[c], markeredgecolor="black",
                          markeredgewidth=0.8) for c in compounds]
ax.legend(scatter_handles, compound_labels, loc="upper left",
          bbox_to_anchor=(0.163, 0.915), frameon=False, fontsize=18,
          handlelength=1.1, handletextpad=0.7, labelspacing=0.25,
          borderaxespad=0, borderpad=0)

line_handles = [Line2D([], [], color=c, linewidth=2.2) for c in dos_colors]
ax2.legend(line_handles, dos_labels, loc="upper left",
           bbox_to_anchor=(0.86, 0.92), frameon=False, fontsize=16.5,
           handlelength=0.95, handletextpad=0.95, labelspacing=0.28,
           borderaxespad=0, borderpad=0)

fig.savefig("out.png", dpi=100)
